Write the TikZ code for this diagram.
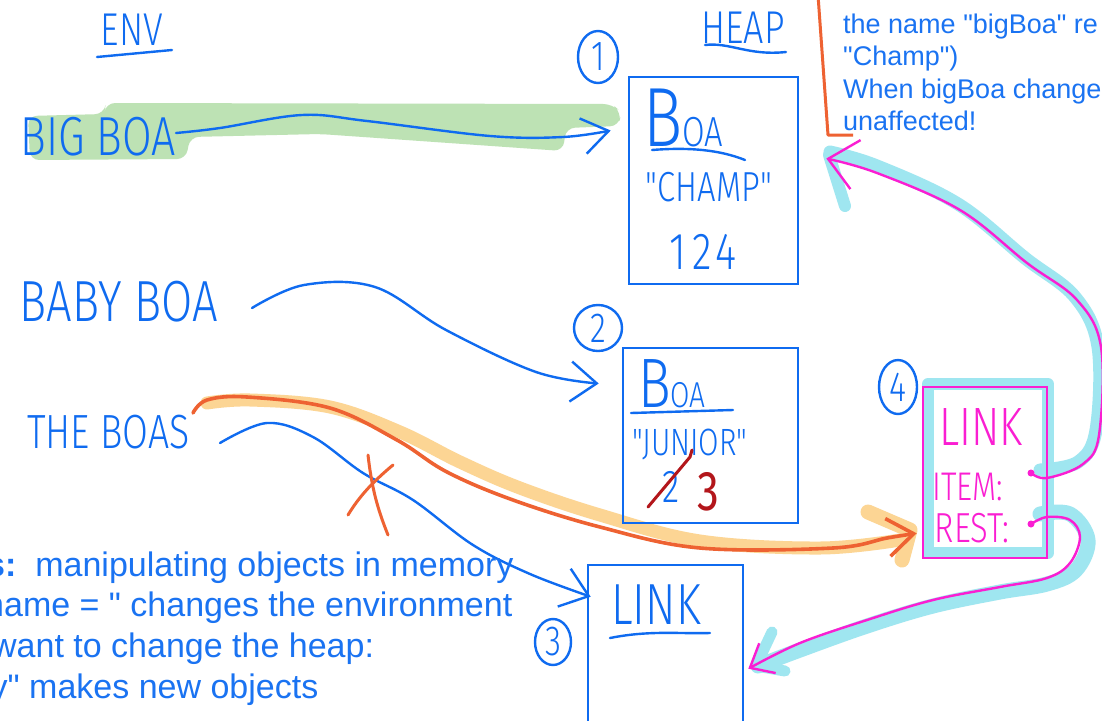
\documentclass[tikz,border=0pt]{standalone}
\usepackage{fontspec}
\setmainfont{Liberation Sans}[Ligatures=TeXOff]
\newfontfamily\handfont{Fira Sans}[UprightFont={* Light}, FakeStretch=0.78, Ligatures=TeXOff]
\newfontfamily\handheavy{Fira Sans}[FakeStretch=0.78]
\usetikzlibrary{shapes.geometric, arrows.meta, positioning, calc}

\definecolor{inkblue}{HTML}{0F6BF0}
\definecolor{typeblue}{HTML}{1A73F2}
\definecolor{inkpink}{HTML}{FA1ED2}
\definecolor{inkorange}{HTML}{EE6232}
\definecolor{inkred}{HTML}{B3161B}
\definecolor{hlgreen}{HTML}{BDE2B4}
\definecolor{hlorange}{HTML}{FCD594}
\definecolor{hlcyan}{HTML}{9FE6F0}

\begin{document}
\begin{tikzpicture}[
    x=1pt, y=-1pt,
    % --- BASE STYLES ---
    hand/.style={font=\handfont\fontsize{#1}{#1}\selectfont, text=inkblue, inner sep=0pt},
    typed/.style={font=\fontsize{34}{40}\selectfont, text=typeblue, inner sep=0pt, anchor=base west},
    ink/.style={draw=inkblue, line width=2.4pt, line cap=round, line join=round},
    pen/.style={ink, draw=#1},
    marker/.style={draw=#1, line cap=round, line join=round},
    % --- HEAP OBJECTS ---
    heapbox/.style={rectangle, draw=inkblue, line width=2.6pt, inner sep=0pt},
    linkbox/.style={heapbox, draw=inkpink},
    circnum/.style={ellipse, draw=inkblue, line width=2.4pt, hand=42, inner sep=0pt},
    pindot/.style={circle, fill=inkpink, inner sep=0pt, minimum size=7pt}
]
\useasboundingbox (0,0) rectangle (1102,720);
\clip (0,0) rectangle (1102,720);
\fill[white] (0,0) rectangle (1102,720);

% ==========================================
% HIGHLIGHTER STROKES (behind everything)
% ==========================================
\fill[hlgreen, rounded corners=9pt] (28,116) -- (104,114) -- (106,103) -- (612,104) -- (621,112)
    -- (619,126) -- (566,128) -- (563,151) -- (320,134) -- (190,137) -- (186,159) -- (30,160) -- cycle;

\draw[marker=hlorange, line width=13pt] plot[smooth, tension=0.6] coordinates
    {(207,403) (250,400) (330,407) (400,432) (460,462) (520,488) (600,515) (700,541) (820,548) (900,540)};
\draw[marker=hlorange, line width=15pt] (868,512) -- (910,530) -- (902,560);

\draw[marker=hlcyan, line width=12pt] (928,384) -- (1048,384) -- (1048,553) -- (928,553) -- cycle;
\draw[marker=hlcyan, line width=13pt] plot[smooth, tension=0.6] coordinates
    {(1040,470) (1078,462) (1096,430) (1098,347) (1075,297) (1025,258) (958,204) (877,166) (830,152)};
\draw[marker=hlcyan, line width=12pt] (829,155) -- (845,206);
\draw[marker=hlcyan, line width=15pt] plot[smooth, tension=0.6] coordinates
    {(1040,514) (1070,514) (1088,540) (1076,570) (1047,584) (1000,592) (933,606) (867,626) (800,650) (758,666)};
\draw[marker=hlcyan, line width=11pt] (772,632) -- (756,666) -- (785,671);

% ==========================================
% ENV SIDE
% ==========================================
\node[hand=46] (envlbl) at (132,30) {ENV};
\draw[ink] (97,57) -- (172,50);

\node[hand=55, anchor=east] (bigboa) at (176,137) {BIG BOA};
\node[hand=58, anchor=east] (babyboa) at (218,302) {BABY BOA};
\node[hand=48, anchor=east] (theboas) at (190,432) {THE BOAS};

% ==========================================
% HEAP SIDE
% ==========================================
\node[hand=46] (heaplbl) at (743,28) {HEAP};
\draw[ink] (705,45) .. controls (730,42) and (748,56) .. (786,52);

% object 1
\node[circnum, minimum width=40pt, minimum height=52pt] (num1) at (598,57) {1};
\node[heapbox, minimum width=169pt, minimum height=207pt] (champ) at (713.5,180.5) {};
\node[hand=84, anchor=base west] (champcls) at (643,146) {B\fontsize{42}{42}\selectfont OA};
\draw[ink] (652,150) .. controls (690,147) and (720,150) .. (745,160);
\node[hand=42] (champname) at (709,187) {"CHAMP"};
\node[hand=52] (champsize) at (703,252) {1\kern6pt2\kern4pt4};

% object 2
\node[circnum, minimum width=48pt, minimum height=46pt] (num2) at (598,328) {2};
\node[heapbox, minimum width=175pt, minimum height=175pt] (junior) at (710.5,435.5) {};
\node[hand=70, anchor=base west] (juniorcls) at (638,407) {B\fontsize{36}{36}\selectfont OA};
\draw[ink] (631,413) -- (733,410);
\node[hand=38] (juniorname) at (690,445) {"JUNIOR"};
\node[hand=46] (oldsize) at (671,487) {2};
\draw[pen=inkred, line width=3pt] (648,507) -- (690,457) -- (692,450);
\node[font=\handheavy\fontsize{56}{56}\selectfont, text=inkred, inner sep=0pt] (newsize) at (708,492) {3};

% object 3
\node[circnum, minimum width=36pt, minimum height=46pt] (num3) at (553,642) {3};
\node[heapbox, minimum width=155pt, minimum height=180pt] (emptylink) at (665.5,655) {};
\node[hand=58] (emptycls) at (656,605) {LINK};
\draw[ink] (610,638) .. controls (650,630) and (680,634) .. (710,633);

% object 4
\node[circnum, minimum width=38pt, minimum height=54pt] (num4) at (898,387) {4};
\node[linkbox, minimum width=124pt, minimum height=171pt] (fulllink) at (985,472.5) {};
\node[hand=54, text=inkpink] (fullcls) at (981,427) {LINK};
\node[hand=40, text=inkpink] (itemlbl) at (968,487) {ITEM:};
\node[hand=42, text=inkpink] (restlbl) at (972,528) {REST:};
\node[pindot] (itemdot) at (1031,473) {};
\node[pindot] (restdot) at (1031,524) {};

% ==========================================
% REFERENCES
% ==========================================
\coordinate (bigout) at ($(bigboa.east)+(0,-4)$);
\coordinate (bigin) at ($(champ.west)+(-17,-50)$);
\draw[ink, -{Straight Barb[length=26pt, width=36pt]}] plot[smooth, tension=0.6] coordinates
    {(bigout) (220,128) (302,115) (367,121) (490,136) (563,137) (bigin)};

\coordinate (babyout) at ($(babyboa.east)+(34,6)$);
\coordinate (babyin) at ($(junior.west)+(-23,-52)$);
\draw[ink, -{Straight Barb[length=26pt, width=40pt]}] plot[smooth, tension=0.6] coordinates
    {(babyout) (304,285) (375,287) (446,330) (536,372) (babyin)};

\coordinate (boasout) at ($(theboas.east)+(30,11)$);
\coordinate (boasin) at ($(emptylink.north west)+(4,33)$);
\draw[ink, -{Straight Barb[length=26pt, width=40pt]}] plot[smooth, tension=0.6] coordinates
    {(boasout) (267,423) (313,437) (363,473) (413,500) (473,545) (530,574) (boasin)};

% crossed out old reference
\draw[pen=inkorange, line width=3pt] (368,455) .. controls (372,490) and (378,510) .. (388,535);
\draw[pen=inkorange, line width=3pt] (393,465) .. controls (375,480) and (360,495) .. (348,515);

% new reference to the link
\coordinate (boasnew) at ($(theboas.east)+(3,-19)$);
\coordinate (linkin) at ($(fulllink.south west)+(-5,-26)$);
\draw[pen=inkorange, line width=3.6pt, -{Straight Barb[length=26pt, width=38pt]}] plot[smooth, tension=0.6] coordinates
    {(boasnew) (207,400) (247,397) (330,408) (397,440) (447,472) (513,500) (600,527) (700,548) (833,548) (887,538) (linkin)};

% item and rest fields
\coordinate (itemin) at ($(champ.east)+(27,-22)$);
\draw[pen=inkpink, -{Straight Barb[length=28pt, width=50pt]}] plot[smooth, tension=0.6] coordinates
    {(itemdot) (1047,478) (1083,464) (1099,435) (1101,347) (1077,300) (1027,263) (960,210) (877,173) (itemin)};

\coordinate (restin) at ($(emptylink.north east)+(4,105)$);
\draw[pen=inkpink, -{Straight Barb[length=20pt, width=34pt]}] plot[smooth, tension=0.6] coordinates
    {(restdot) (1047,517) (1070,520) (1080,537) (1070,563) (1047,578) (1000,587) (933,600) (867,620) (800,643) (restin)};

% ==========================================
% NOTES
% ==========================================
\draw[pen=inkorange, line width=3pt, line cap=butt] (818,-5) -- (828,135) -- (853,135);
\foreach \line [count=\k] in {the name "bigBoa" re, "Champ"), When bigBoa change, unaffected!}
    \node[typed, font=\fontsize{27}{32}\selectfont] (note\k) at (843,{33+32.5*(\k-1)}) {\line};

\foreach \txt/\dx [count=\k] in {{\textbf{s:}\ \ manipulating objects in memory}/-14,
        {name = " changes the environment}/-15, {want to change the heap:}/-8, {y" makes new objects}/-9.5}
    \node[typed] (take\k) at (\dx,{576+40.7*(\k-1)}) {\txt};

\end{tikzpicture}
\end{document}
